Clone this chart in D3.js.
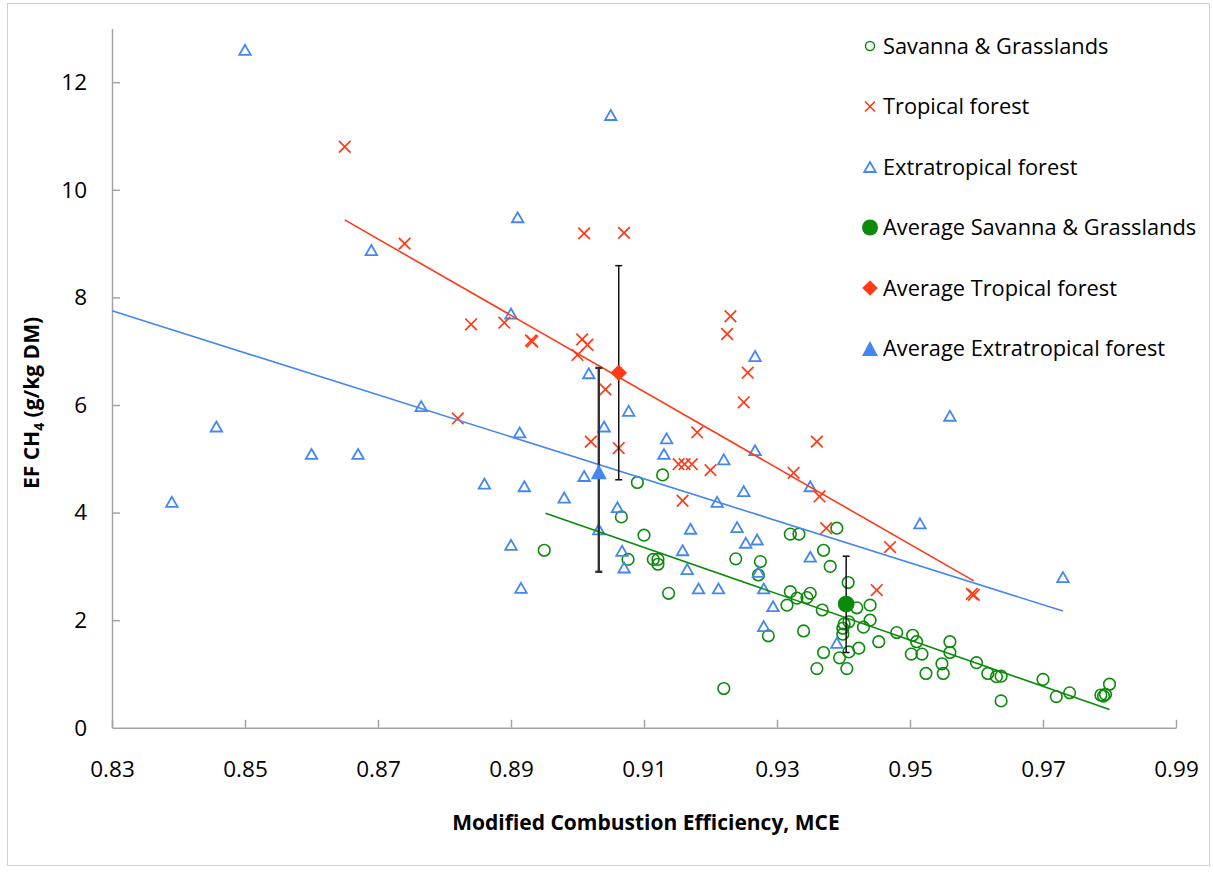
<!DOCTYPE html>
<html lang="en">
<head>
<meta charset="utf-8">
<title>EF CH4 vs MCE</title>
<script src="https://d3js.org/d3.v7.min.js"></script>
<style>
  body { margin: 0; background: #fff; }
  svg text { font-family: "Open Sans", sans-serif; fill: #000; }
</style>
</head>
<body>
<div id="chart"></div>
<script>
// savanna & grasslands
const savannaMCE = [0.909, 0.9128, 0.9066, 0.910, 0.895, 0.9076, 0.9114, 0.9121, 0.9121, 0.9137,
  0.9238, 0.9275, 0.9272, 0.932, 0.9333, 0.939, 0.937, 0.938, 0.9407, 0.932,
  0.933, 0.9315, 0.935, 0.9345, 0.9368, 0.934, 0.9287, 0.922, 0.942, 0.944,
  0.9408, 0.944, 0.943, 0.9401, 0.9399, 0.9399, 0.9423, 0.9408, 0.9453, 0.9394,
  0.937, 0.936, 0.9405, 0.948, 0.9504, 0.951, 0.9502, 0.9518, 0.9524, 0.956,
  0.956, 0.9548, 0.955, 0.960, 0.9617, 0.963, 0.9637, 0.9637, 0.970, 0.972,
  0.974, 0.9787, 0.9791, 0.9794, 0.980];
const savannaEF = [4.56, 4.70, 3.92, 3.58, 3.30, 3.13, 3.13, 3.13, 3.04, 2.50,
  3.14, 3.09, 2.84, 3.60, 3.60, 3.71, 3.30, 3.00, 2.70, 2.53,
  2.41, 2.28, 2.50, 2.42, 2.19, 1.80, 1.71, 0.73, 2.23, 2.28,
  1.97, 2.00, 1.87, 1.93, 1.85, 1.74, 1.48, 1.41, 1.60, 1.30,
  1.40, 1.10, 1.10, 1.77, 1.72, 1.60, 1.37, 1.37, 1.01, 1.60,
  1.40, 1.19, 1.01, 1.21, 1.01, 0.95, 0.96, 0.50, 0.90, 0.58,
  0.65, 0.61, 0.59, 0.62, 0.81];

// tropical forest
const tropicalMCE = [0.865, 0.874, 0.901, 0.907, 0.923, 0.9225, 0.884, 0.889, 0.893, 0.8932,
  0.9007, 0.9015, 0.900, 0.9256, 0.9042, 0.925, 0.882, 0.918, 0.936, 0.902,
  0.9062, 0.9152, 0.9161, 0.9172, 0.920, 0.9325, 0.9364, 0.9158, 0.9374, 0.947,
  0.945, 0.9593, 0.9596];
const tropicalEF = [10.8, 9.0, 9.19, 9.2, 7.65, 7.32, 7.5, 7.53, 7.2, 7.18,
  7.22, 7.12, 6.93, 6.6, 6.29, 6.05, 5.75, 5.49, 5.32, 5.32,
  5.2, 4.9, 4.9, 4.9, 4.79, 4.74, 4.3, 4.22, 3.71, 3.36,
  2.56, 2.49, 2.47];

// extratropical forest
const extraMCE = [0.850, 0.869, 0.905, 0.891, 0.890, 0.9017, 0.9267, 0.9077, 0.8765, 0.904,
  0.8913, 0.956, 0.9134, 0.9267, 0.913, 0.922, 0.8457, 0.860, 0.867, 0.839,
  0.901, 0.886, 0.892, 0.898, 0.906, 0.935, 0.925, 0.921, 0.9515, 0.917,
  0.924, 0.9032, 0.9253, 0.927, 0.890, 0.9067, 0.9158, 0.907, 0.9165, 0.935,
  0.9272, 0.9182, 0.9212, 0.928, 0.8915, 0.9294, 0.928, 0.939, 0.973];
const extraEF = [12.6, 8.88, 11.39, 9.49, 7.7, 6.59, 6.91, 5.89, 5.98, 5.6,
  5.49, 5.8, 5.38, 5.16, 5.09, 4.99, 5.6, 5.09, 5.09, 4.2,
  4.68, 4.54, 4.49, 4.28, 4.1, 4.49, 4.4, 4.2, 3.8, 3.7,
  3.73, 3.69, 3.44, 3.5, 3.4, 3.29, 3.3, 2.98, 2.95, 3.18,
  2.9, 2.59, 2.59, 2.59, 2.6, 2.26, 1.89, 1.58, 2.8];

// averages (savanna, tropical, extratropical) with error
const avgMCE = [0.9404, 0.9062, 0.9032];
const avgEF = [2.30, 6.60, 4.76];
const avgErrUp = [0.89, 1.99, 1.93];
const avgErrDown = [0.90, 1.99, 1.86];

// trend lines: [x0, x1], [y0, y1]
const trendSavannaX = [0.8952, 0.980], trendSavannaY = [3.99, 0.34];
const trendTropicalX = [0.865, 0.9596], trendTropicalY = [9.44, 2.73];
const trendExtraX = [0.83, 0.973], trendExtraY = [7.75, 2.17];

const xTicks = [0.83, 0.85, 0.87, 0.89, 0.91, 0.93, 0.95, 0.97, 0.99];
const yTicks = [0, 2, 4, 6, 8, 10, 12];

const legendLabels = ['Savanna & Grasslands', 'Tropical forest', 'Extratropical forest',
  'Average Savanna & Grasslands', 'Average Tropical forest', 'Average Extratropical forest'];

const width = 1213, height = 872;
const green = '#0b8a0b', red = '#ff3a17', blue = '#4587f0', axisGray = '#a3a3a3';

const svg = d3.select('#chart').append('svg').attr('width', width).attr('height', height);

// outer frame
svg.append('rect').attr('x', 7.5).attr('y', 3.5).attr('width', 1202).attr('height', 862)
  .attr('fill', 'none').attr('stroke', '#d0d0d0').attr('stroke-width', 1);

const x = d3.scaleLinear().domain([0.83, 0.99]).range([112, 1176]);
const y = d3.scaleLinear().domain([0, 13]).range([727.8, 28.4]);

// axes
const xAxis = d3.axisBottom(x).tickValues(xTicks).tickFormat(d3.format('.2f'))
  .tickSizeInner(-8).tickSizeOuter(0).tickPadding(33);
const gx = svg.append('g').attr('transform', 'translate(0,727.8)').call(xAxis);

const yAxis = d3.axisLeft(y).tickValues(yTicks).tickFormat(d3.format('d'))
  .tickSizeInner(-8).tickSizeOuter(0).tickPadding(25);
const gy = svg.append('g').attr('transform', 'translate(112,0)').call(yAxis);

[gx, gy].forEach(g => {
  g.attr('font-family', null).attr('font-size', null);
  g.select('.domain').attr('stroke', axisGray).attr('stroke-width', 1.5);
  g.selectAll('.tick line').attr('stroke', axisGray).attr('stroke-width', 1.5);
  g.selectAll('.tick text').attr('font-size', 22.5).attr('fill', '#000');
});
gy.selectAll('.tick').filter(d => d === 0).select('line').remove();

// axis titles
svg.append('text')
  .attr('x', 646).attr('y', 830)
  .attr('text-anchor', 'middle')
  .attr('font-size', 21).attr('font-weight', 'bold')
  .text('Modified Combustion Efficiency, MCE');

const yTitle = svg.append('text')
  .attr('transform', 'translate(39,403) rotate(-90)')
  .attr('text-anchor', 'middle')
  .attr('font-size', 21).attr('font-weight', 'bold');
yTitle.append('tspan').text('EF CH');
yTitle.append('tspan').text('4').attr('font-size', 14).attr('dy', 5);
yTitle.append('tspan').text(' (g/kg DM)').attr('dy', -5);

// marker shapes
function crossPath(s) {
  return `M${-s},${-s}L${s},${s}M${-s},${s}L${s},${-s}`;
}
function triPath(w, h) {
  return `M0,${-h / 2}L${w / 2},${h / 2}L${-w / 2},${h / 2}Z`;
}
function diamondPath(s) {
  return `M0,${-s}L${s},0L0,${s}L${-s},0Z`;
}

const plot = svg.append('g');

// scatter series
plot.append('g').selectAll('circle')
  .data(d3.range(savannaMCE.length))
  .join('circle')
  .attr('cx', i => x(savannaMCE[i]))
  .attr('cy', i => y(savannaEF[i]))
  .attr('r', 5.8)
  .attr('fill', 'none').attr('stroke', green).attr('stroke-width', 1.6);

plot.append('g').selectAll('path')
  .data(d3.range(extraMCE.length))
  .join('path')
  .attr('d', triPath(11.5, 10))
  .attr('transform', i => `translate(${x(extraMCE[i])},${y(extraEF[i])})`)
  .attr('fill', 'none').attr('stroke', blue).attr('stroke-width', 1.8)
  .attr('stroke-linejoin', 'miter');

plot.append('g').selectAll('path')
  .data(d3.range(tropicalMCE.length))
  .join('path')
  .attr('d', crossPath(5.8))
  .attr('transform', i => `translate(${x(tropicalMCE[i])},${y(tropicalEF[i])})`)
  .attr('fill', 'none').attr('stroke', red).attr('stroke-width', 1.7);

// trend lines
const line = d3.line().x(d => x(d[0])).y(d => y(d[1]));
[[trendSavannaX, trendSavannaY, green], [trendTropicalX, trendTropicalY, red], [trendExtraX, trendExtraY, blue]]
  .forEach(([tx, ty, c]) => {
    plot.append('path')
      .attr('d', line(d3.zip(tx, ty)))
      .attr('fill', 'none').attr('stroke', c).attr('stroke-width', 1.6);
  });

// error bars
const errColor = ['#111', '#111', '#333'];
const errWidth = [1.5, 1.5, 2.4];
avgMCE.forEach((m, i) => {
  const cx = x(m);
  const top = y(avgEF[i] + avgErrUp[i]), bot = y(avgEF[i] - avgErrDown[i]);
  const g = plot.append('g').attr('stroke', errColor[i]).attr('stroke-width', errWidth[i]);
  g.append('line').attr('x1', cx).attr('x2', cx).attr('y1', top).attr('y2', bot);
  g.append('line').attr('x1', cx - 3.5).attr('x2', cx + 3.5).attr('y1', top).attr('y2', top);
  g.append('line').attr('x1', cx - 3.5).attr('x2', cx + 3.5).attr('y1', bot).attr('y2', bot);
});

// average markers
plot.append('circle').attr('cx', x(avgMCE[0])).attr('cy', y(avgEF[0])).attr('r', 8.4).attr('fill', green);
plot.append('path').attr('d', diamondPath(8.2))
  .attr('transform', `translate(${x(avgMCE[1])},${y(avgEF[1])})`).attr('fill', red);
plot.append('path').attr('d', triPath(16, 15))
  .attr('transform', `translate(${x(avgMCE[2])},${y(avgEF[2])})`).attr('fill', blue);

// legend
const legend = svg.append('g').attr('transform', 'translate(870,46)');
const rowH = 60.5;
legendLabels.forEach((lab, i) => {
  const row = legend.append('g').attr('transform', `translate(0,${i * rowH})`);
  if (i === 0) row.append('circle').attr('r', 4.5).attr('fill', 'none').attr('stroke', green).attr('stroke-width', 1.5);
  if (i === 1) row.append('path').attr('d', crossPath(5)).attr('fill', 'none').attr('stroke', red).attr('stroke-width', 1.6);
  if (i === 2) row.append('path').attr('d', triPath(11.5, 10)).attr('fill', 'none').attr('stroke', blue).attr('stroke-width', 1.8);
  if (i === 3) row.append('circle').attr('r', 8).attr('fill', green);
  if (i === 4) row.append('path').attr('d', diamondPath(7.8)).attr('fill', red);
  if (i === 5) row.append('path').attr('d', triPath(16, 15)).attr('fill', blue);
  row.append('text').attr('x', 13).attr('dy', '0.35em').attr('font-size', 21.8).text(lab);
});
</script>
</body>
</html>
